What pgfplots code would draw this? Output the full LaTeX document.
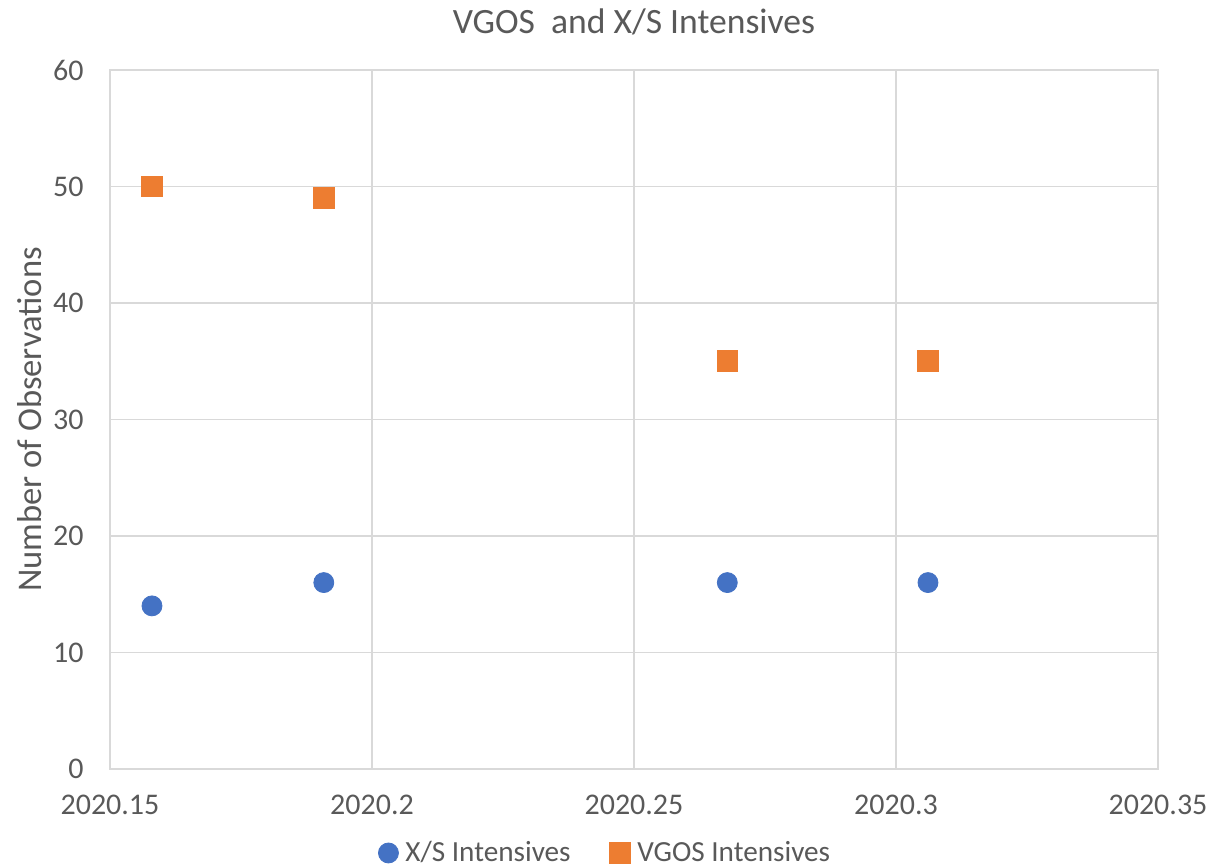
\documentclass[border=0pt]{standalone}
\usepackage{fontspec}
\setmainfont{Carlito}
\usepackage{pgfplots}
\pgfplotsset{compat=1.18}
\definecolor{xsblue}{HTML}{4472C4}
\definecolor{vgorange}{HTML}{ED7D31}
\definecolor{txtgray}{HTML}{595959}
\definecolor{gridgray}{HTML}{D9D9D9}
\begin{document}
\begin{tikzpicture}
\begin{axis}[
  scale only axis,
  width=524pt, height=349.5pt,
  xmin=2020.15, xmax=2020.35, ymin=0, ymax=60,
  xtick={2020.15,2020.2,2020.25,2020.3,2020.35},
  xticklabels={2020.15,2020.2,2020.25,2020.3,2020.35},
  ytick={0,10,20,30,40,50,60},
  yticklabels={0,10,20,30,40,50,60},
  major tick length=0pt,
  grid=major,
  major grid style={gridgray, line width=0.6pt},
  axis line style={gridgray, line width=0.6pt},
  tick label style={font=\fontsize{15}{17}\selectfont, text=txtgray},
  xticklabel style={anchor=center, yshift=-18pt},
  yticklabel style={anchor=east, inner sep=0pt, xshift=-13pt},
  ylabel={Number of Observations},
  every axis y label/.style={at={(rel axis cs:0,0.5)}, rotate=90, anchor=center, yshift=40pt, font=\fontsize{17.3}{20}\selectfont, text=txtgray},
  title={VGOS~~and X/S Intensives},
  every axis title/.style={at={(rel axis cs:0.5,1)}, anchor=center, yshift=24pt, font=\fontsize{17.8}{20}\selectfont, text=txtgray},
  legend style={at={(rel axis cs:0.475,0)}, anchor=center, yshift=-42pt, draw=none, font=\fontsize{14.6}{17}\selectfont, text=txtgray, legend columns=2, nodes={inner xsep=3.5pt}, /tikz/every even column/.append style={column sep=16pt}},
  legend cell align=left,
  clip=false,
]
\addplot[only marks, mark=*, mark size=5pt, mark options={draw=xsblue, fill=xsblue}] coordinates {
  (2020.158,14) (2020.1908,16) (2020.2678,16) (2020.3061,16)
};
\addlegendentry{X/S Intensives}
\addplot[only marks, mark=square*, mark size=5.2pt, mark options={draw=vgorange, fill=vgorange}] coordinates {
  (2020.158,50) (2020.1908,49) (2020.2678,35) (2020.3061,35)
};
\addlegendentry{VGOS Intensives}
\coordinate (sw) at (rel axis cs:0,0);
\coordinate (ne) at (rel axis cs:1,1);
\end{axis}
\pgfresetboundingbox
\path[use as bounding box] ([shift={(-55pt,-48.5pt)}]sw) rectangle ([shift={(25pt,35pt)}]ne);
\end{tikzpicture}
\end{document}
